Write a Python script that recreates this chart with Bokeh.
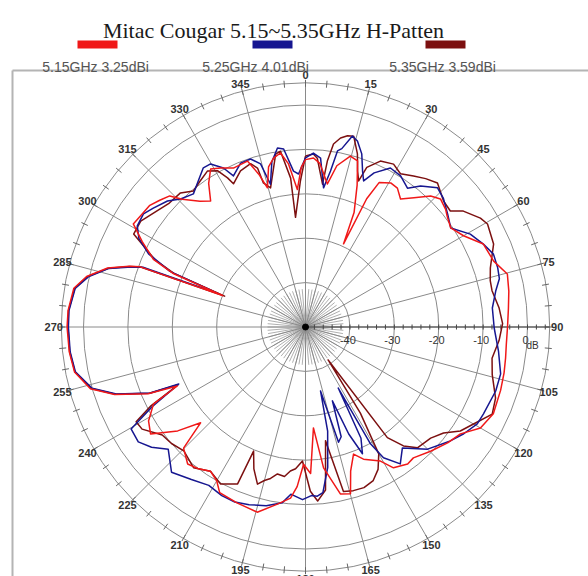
import numpy as np
from bokeh.plotting import figure
from bokeh.models import Range1d
from bokeh.core.properties import value
from bokeh.embed import file_html
from bokeh.resources import INLINE

TITLE = "Mitac Cougar 5.15~5.35GHz H-Patten"
series_labels = ["5.15GHz  3.25dBi", "5.25GHz  4.01dBi", "5.35GHz  3.59dBi"]
series_colors = ["#f01818", "#161690", "#7c1010"]
ring_levels = [-40, -30, -20, -10, 0, 5]
ring_labels = ["-40", "-30", "-20", "-10", "0"]
angle_labels = [str(a) for a in range(0, 360, 15)]

# 5.15 GHz (angle deg, gain dB)
red_ang = [0, 2.7, 5, 8.7, 11, 14.7, 17.4, 20, 23, 24.6, 25.5, 27, 30.6, 33.5, 36.6, 40, 43.7, 46.5,
           50, 52, 55.7, 60, 65, 70.7, 75.3, 80, 84.7, 90, 95, 98.8, 103, 108, 114.8, 120, 124.6,
           129.2, 134.8, 140.5, 143.3, 148, 150.8, 156.3, 159.3, 162.6, 164.9, 168.2, 172.7, 175.5,
           178, 180.8, 183, 185, 189, 194.6, 201.3, 207.4, 210, 213.4, 217, 220.7, 225.2, 227.6,
           230.9, 235.4, 239.1, 243.1, 245.3, 247, 250.5, 254, 259, 264, 270, 274, 279.5, 283,
           286.6, 289, 290, 290.8, 292, 294, 297.6, 300.9, 303.9, 308, 311, 314, 316, 320, 323,
           326, 329, 331.9, 335.6, 340.7, 343, 344.7, 347, 349.3, 351.8, 354, 356.6, 358.5, 360]
red_db = [-12.3, -11.9, -13, -17.4, -13, -10.2, -10.8, -16, -22, -29.4, -18, -13.5, -12.3, -12.5,
          -14.1, -12, -9.2, -8.1, -8.8, -9.5, -10.4, -8.9, -5.8, -5.1, -3, -3.5, -4.1, -4.5, -4.6,
          -4.4, -4.1, -3.8, -3.4, -4.5, -7.6, -8.7, -10.3, -11.8, -11.5, -12.6, -15.4, -17.5,
          -19.4, -16, -11.1, -11.6, -18, -27.2, -17, -19.1, -14, -11.3, -9.6, -6.9, -7.5, -8,
          -10, -11.1, -10, -9.3, -11.3, -18, -12.9, -7.6, -8.8, -11.6, -18.2, -11.5, -4.4, 0.4,
          3.0, 3.5, 3.7, 3.6, 2.9, 0.6, -3.5, -8, -10.4, -30, -18, -12.5, -8.5, -4.8, -5.2, -5.5,
          -6.5, -7.5, -10, -13, -14.5, -11, -8.5, -9.4, -10.7, -10.4, -14, -17.5, -13, -11.3,
          -10.4, -13, -19, -14, -12.3]

# 5.25 GHz
blue_ang = [0, 2.6, 5.1, 7.4, 9.1, 10.3, 11.5, 13.8, 15.6, 18, 20.1, 21.7, 24, 28.1, 32.2, 36.3,
            39.2, 43.5, 46.9, 51.5, 55.7, 60.6, 65, 68.8, 72.9, 76, 79.3, 84.2, 90.3, 97.1, 103.5,
            108.6, 116, 119.4, 124, 128.2, 135, 141.3, 145.3, 149.2, 150.9, 151.8, 153.5, 155.8,
            158, 160, 162, 164, 166.8, 168, 171, 174, 176, 178, 181, 185, 187.5, 192.4, 197.6, 202,
            206.4, 211.4, 216.8, 222.7, 228.3, 232, 235.5, 239.7, 242.5, 245.8, 247, 250.5, 254,
            259, 264, 270, 274, 279.5, 283, 286.6, 289, 290.2, 291, 292.3, 295, 298, 301, 304.9,
            308, 312.4, 315.7, 319.9, 323, 327.3, 329.8, 332.7, 334.5, 338.4, 341.9, 344.6, 346.2,
            348.5, 351.1, 353, 355.6, 357.4, 360]
blue_db = [-11.9, -10.8, -11.8, -18.4, -14.4, -9.7, -9, -5.7, -6.5, -9, -12.6, -14.6, -12, -9.4,
           -9.8, -11.2, -9, -6.8, -7.5, -9.1, -10.4, -7.4, -5.8, -4.6, -4.7, -5, -6.4, -7.7, -7.5,
           -6.2, -4.8, -4.8, -5.4, -5.6, -7, -8.5, -11.1, -15.1, -12.5, -15.7, -19.9, -34.4, -22,
           -18.7, -24, -32.3, -24, -23, -35.2, -26, -18, -12.5, -11.8, -12, -11.1, -12.2, -10.1,
           -8.8, -8, -7.5, -7.6, -8.2, -7.1, -5.5, -8.6, -6, -4.3, -4.5, -11, -18.7, -12, -4.8, 0,
           2.8, 3.3, 3.4, 3.4, 2.6, 0.2, -3.8, -8.5, -11, -29, -17, -11, -7.5, -5.8, -5.5, -6.5,
           -7.9, -9.7, -10.8, -9.5, -7.4, -7.5, -9.7, -12.3, -10.3, -10.2, -11.9, -16.9, -12, -9.2,
           -9.6, -14.8, -15.5, -11.9]

# 5.35 GHz
dred_ang = [0, 2.6, 4, 6.8, 7.5, 8.7, 10.5, 12.4, 14.2, 16.7, 18.5, 20, 21, 24.3, 28.4, 31.8, 35.6,
            39, 42.5, 47.6, 51.3, 53.7, 58.1, 60.5, 66.2, 72.3, 75.9, 79, 84.3, 89, 94, 99.5, 104.3,
            110.5, 115, 120, 123.9, 127.5, 131.6, 137.2, 140.5, 143.5, 145.5, 147.5, 150, 153,
            156.2, 160, 163.7, 167, 170, 173, 176, 178.3, 181.3, 184, 186, 188, 190.8, 193, 195,
            197, 200, 202.7, 203.4, 208.4, 213.4, 218.5, 224.5, 229, 233, 238, 240.8, 243, 245.6,
            247, 250.5, 254, 259, 264, 270, 274, 279.5, 283, 286.6, 289, 290, 290.9, 292.2, 294,
            298.4, 302.7, 307.9, 312, 317, 320.5, 324, 327.9, 330.6, 332.4, 333.3, 337.4, 341.4,
            343.2, 343.7, 345.9, 350.2, 351.9, 354.3, 354.8, 358, 360]
dred_db = [-11.5, -11, -11.9, -17.6, -12.3, -8.3, -6.7, -5.9, -5.7, -9.3, -13, -15, -11.5, -9,
           -8.3, -9.4, -8.2, -7, -6, -7.9, -8.2, -5.9, -3.6, -2.9, -3.7, -6.3, -7.1, -7.2, -6.2,
           -5.6, -6.3, -7.4, -6.6, -4.3, -3.6, -6.3, -8, -10.8, -12.3, -12.9, -15.3, -19, -41,
           -27, -17, -14, -12.2, -11.5, -11.6, -12, -24, -13, -10.7, -13, -19.8, -18, -17.4, -16,
           -16.3, -15, -14.2, -13, -16, -19.7, -11.5, -9.8, -11.1, -9.5, -10.9, -10, -9.6, -6.6,
           -6.3, -11, -18.5, -11.8, -4.6, 0.2, 2.9, 3.4, 3.5, 3.5, 2.7, 0.4, -3.7, -8.2, -10.5,
           -30.5, -18, -13, -6, -5.9, -7.5, -8.5, -8.7, -10.3, -9.5, -8.5, -9.6, -12.1, -13.9,
           -11.9, -11.2, -12.6, -16.2, -17.7, -10.5, -10, -16.3, -25.2, -17.1, -11.5]

CX, CY = 305.0, 326.5
DB_MIN = -50.0
PX_PER_DB = 4.44
R_OUT = (ring_levels[-1] - DB_MIN) * PX_PER_DB
W, H = 588, 576


def rad(db):
    return (np.asarray(db, dtype=float) - DB_MIN) * PX_PER_DB


def polar(ang, r):
    a = np.radians(np.asarray(ang, dtype=float))
    r = np.asarray(r, dtype=float)
    return CX + r * np.sin(a), CY - r * np.cos(a)


p = figure(width=W, height=H, x_range=Range1d(0, W), y_range=Range1d(H, 0),
           x_axis_type=None, y_axis_type=None, output_backend="svg", toolbar_location=None,
           min_border=0)
p.outline_line_color = None
p.background_fill_color = "white"

GRID = "#8a8a8a"

# frame
p.line([12, 12], [620, 70], line_color="#b4b4b4", line_width=2)
p.line([12, 620], [70, 70], line_color="#b4b4b4", line_width=2)

# center starburst
sb = np.arange(0, 360, 5)
sx, sy = polar(sb, np.full(len(sb), 38.0))
p.segment(x0=[CX] * len(sb), y0=[CY] * len(sb), x1=sx, y1=sy, line_color="#9a9a9a", line_width=0.8)

# radial grid lines
rl = np.arange(0, 360, 15)
rx, ry = polar(rl, np.full(len(rl), R_OUT))
p.segment(x0=[CX] * len(rl), y0=[CY] * len(rl), x1=rx, y1=ry, line_color=GRID, line_width=1)

# rings
rr = rad(ring_levels)
p.circle(x=[CX] * len(rr), y=[CY] * len(rr), radius=rr, fill_color=None, line_color=GRID,
         line_width=1)

# outer ring ticks every 5 deg
ta = np.arange(0, 360, 5)
t0x, t0y = polar(ta, np.full(len(ta), R_OUT - 4))
t1x, t1y = polar(ta, np.full(len(ta), R_OUT + 3))
p.segment(x0=t0x, y0=t0y, x1=t1x, y1=t1y, line_color="#666666", line_width=1)

# 90-degree radial axis with ticks
p.line([CX, CX + R_OUT], [CY, CY], line_color="#444444", line_width=1.2)
tl = np.arange(-48, 5, 2)
tx = CX + rad(tl)
p.segment(x0=tx, y0=[CY - 2.5] * len(tx), x1=tx, y1=[CY + 2.5] * len(tx), line_color="#444444",
          line_width=1)

# radial labels
lx = CX + rad([float(s) for s in ring_labels]) - 2
p.text(x=lx, y=[CY + 13] * len(lx), text=ring_labels, text_font=value("Liberation Sans"),
       text_font_size=value("11px"), text_align="center", text_baseline="alphabetic",
       text_color="#333333")
p.text(x=[CX + rad([0])[0] + 5], y=[CY + 18], text=["dB"], text_font=value("Liberation Sans"),
       text_font_size=value("10px"), text_align="center", text_baseline="alphabetic",
       text_color="#333333")

# angle labels
aa = [float(s) for s in angle_labels]
ax, ay = polar(aa, np.full(len(aa), R_OUT + 7.5))
p.text(x=ax, y=ay, text=angle_labels, text_font=value("Liberation Sans"),
       text_font_size=value("11px"), text_align="center", text_baseline="middle",
       text_color="#333333", text_font_style="bold")

# pattern curves
for ang, db, col in [(dred_ang, dred_db, series_colors[2]),
                     (blue_ang, blue_db, series_colors[1]),
                     (red_ang, red_db, series_colors[0])]:
    x, y = polar(ang, rad(db))
    p.line(x, y, line_color=col, line_width=1.5, line_join="round")

# center dot
p.scatter([CX], [CY], size=6, color="black")

# title
p.text(x=[273], y=[30], text=[TITLE], text_font=value("Liberation Serif"),
       text_font_size=value("22px"), text_align="center", text_baseline="alphabetic",
       text_color="#1a1a1a")

# legend
bar_l = [77, 252, 425]
p.quad(left=bar_l, right=[b + 40 for b in bar_l], top=[40] * 3, bottom=[48] * 3,
       color=series_colors, line_color=None)
p.text(x=[97, 257, 444], y=[66] * 3, text=series_labels, text_font=value("Liberation Sans"),
       text_font_size=value("14px"), text_align="center", text_baseline="alphabetic",
       text_color="#555555")

open("out.html", "w").write(file_html(p, INLINE))
